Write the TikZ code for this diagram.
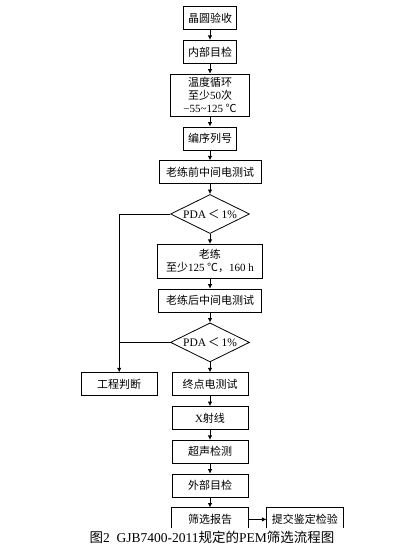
\documentclass[tikz,border=0pt]{standalone}
\usepackage{fontspec}
\setmainfont{Liberation Serif}
\newfontfamily\cjk{Noto Sans CJK SC}
\newcommand{\latn}[1]{{\rmfamily #1}}
\usetikzlibrary{arrows.meta,positioning,shapes.geometric}

\begin{document}
\begin{tikzpicture}[x=1pt,y=-1pt,
  node distance=10pt and 14pt,
  box/.style={draw,line width=0.8pt,align=center,minimum height=23pt,
    inner sep=1pt,font=\cjk\fontsize{11}{13}\selectfont},
  gate/.style={draw,line width=0.8pt,diamond,aspect=2.2,minimum width=79pt,
    minimum height=39pt,inner sep=0pt,font=\fontsize{11.5}{13}\selectfont},
  arrow/.style={-{Latex[length=4.5pt,width=4.5pt]},line width=0.8pt},
  line/.style={line width=0.8pt}]
\useasboundingbox (0,0) rectangle (401,550);
\node[box,minimum width=53pt] (wafer) at (210,18) {晶圆验收};
\node[box,minimum width=53pt,below=of wafer] (inspin) {内部目检};
\node[box,minimum width=79pt,minimum height=42pt,below=of inspin] (tcycle)
  {温度循环\\至少\latn{50}次\\\latn{−55\textasciitilde125} ℃};
\node[box,minimum width=53pt,below=of tcycle] (serial) {编序列号};
\node[box,minimum width=102pt,below=of serial] (pretest) {老练前中间电测试};
\node[gate,below=of pretest] (pda1) {PDA\,{\cjk ＜}\,1\%};
\node[box,minimum width=105pt,minimum height=34pt,below=of pda1] (burnin)
  {老练\\至少\latn{125} ℃，\latn{160 h}};
\node[box,minimum width=103pt,below=of burnin] (posttest) {老练后中间电测试};
\node[gate,below=of posttest] (pda2) {PDA\,{\cjk ＜}\,1\%};
\node[box,minimum width=76pt,below=of pda2] (final) {终点电测试};
\node[box,minimum width=76pt,left=of final] (judge) {工程判断};
\node[box,minimum width=76pt,below=of final] (xray) {\latn{X}射线};
\node[box,minimum width=76pt,below=of xray] (sonic) {超声检测};
\node[box,minimum width=76pt,below=of sonic] (inspout) {外部目检};
\node[box,draw=none,minimum width=76pt,below=of inspout] (report) {筛选报告};
\node[box,draw=none,minimum width=76pt,right=18pt of report] (submit) {提交鉴定检验};
\node[font=\fontsize{13.5}{15}\selectfont] (caption) at (212,537)
  {{\cjk 图}2\enspace GJB7400-2011{\cjk 规定的}PEM{\cjk 筛选流程图}};
% open bottoms, as in the scan
\draw[line] ([yshift=3pt]report.south west) |- (report.north east)
  -- ([yshift=3pt]report.south east);
\draw[line] ([yshift=3pt]submit.south west) |- (submit.north east)
  -- ([yshift=3pt]submit.south east);
\draw[arrow] (wafer) -- (inspin);
\draw[arrow] (inspin) -- (tcycle);
\draw[arrow] (tcycle) -- (serial);
\draw[arrow] (serial) -- (pretest);
\draw[arrow] (pretest) -- (pda1);
\draw[arrow] (pda1) -- (burnin);
\draw[arrow] (burnin) -- (posttest);
\draw[arrow] (posttest) -- (pda2);
\draw[arrow] (pda2) -- (final);
\draw[arrow] (final) -- (xray);
\draw[arrow] (xray) -- (sonic);
\draw[arrow] (sonic) -- (inspout);
\draw[arrow] (inspout) -- (report);
\draw[arrow] (report) -- (submit);
\draw[arrow] (pda1.west) -| (judge.north);
\draw[line] (pda2.west) -- (pda2.west -| judge.north);
\end{tikzpicture}
\end{document}
